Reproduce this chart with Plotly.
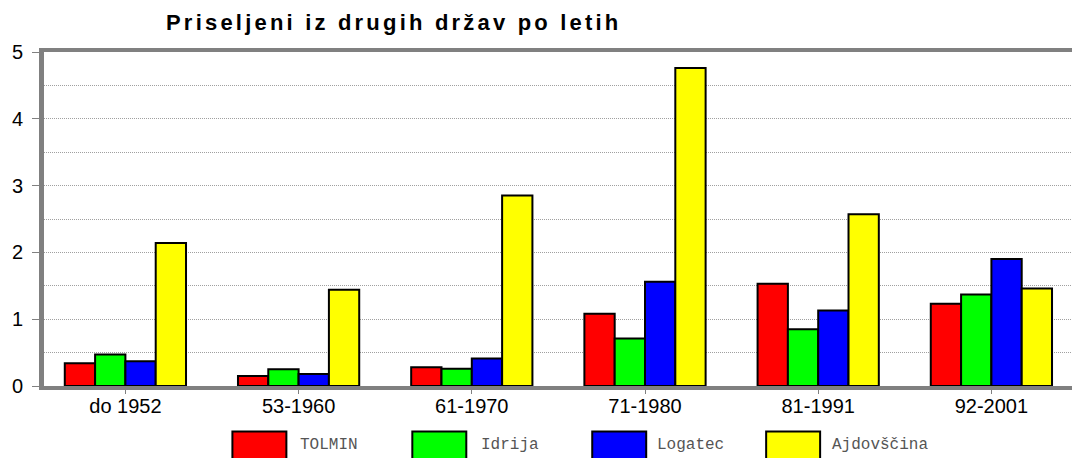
import plotly.graph_objects as go

categories = ["do 1952", "53-1960", "61-1970", "71-1980", "81-1991", "92-2001"]
series_names = ["TOLMIN", "Idrija", "Logatec", "Ajdovščina"]
tolmin = [0.34, 0.15, 0.28, 1.08, 1.53, 1.23]
idrija = [0.47, 0.25, 0.26, 0.71, 0.85, 1.37]
logatec = [0.37, 0.18, 0.41, 1.56, 1.13, 1.90]
ajdovscina = [2.14, 1.44, 2.85, 4.76, 2.57, 1.46]
series_values = [tolmin, idrija, logatec, ajdovscina]
colors = ["#FF0000", "#00FF00", "#0000FF", "#FFFF00"]
y_ticks = [0, 1, 2, 3, 4, 5]
title_text = "Priseljeni iz drugih držav po letih"

# page body has an 8px margin; figure coords = screen coords - 8
OFF = 8
W, H = 1072, 450
L, R, T, B = 35.5, 2, 44, 71.5
PW, PH = W - L - R, H - T - B

fig = go.Figure()
for name, vals, col in zip(series_names, series_values, colors):
    fig.add_trace(go.Bar(
        x=categories, y=vals, name=name,
        marker=dict(color=col, line=dict(color="#000000", width=2)),
        showlegend=False,
    ))

def px_x(px):
    return (px - OFF - L) / PW

def px_y(py):
    return (H - B - (py - OFF)) / PH

# custom legend (large swatches as in the reference)
swatch_x = [232, 412, 592, 766]
text_x = [298, 479, 655, 830]
shapes = []
annotations = []
for i, name in enumerate(series_names):
    shapes.append(dict(
        type="rect", xref="paper", yref="paper",
        x0=px_x(swatch_x[i]), x1=px_x(swatch_x[i] + 54),
        y0=px_y(432), y1=px_y(462),
        fillcolor=colors[i], line=dict(color="#000000", width=2),
    ))
    annotations.append(dict(
        xref="paper", yref="paper", x=px_x(text_x[i]), y=px_y(445.5),
        xanchor="left", yanchor="middle", showarrow=False, text=name,
        font=dict(family="Courier New, Liberation Mono, monospace", size=16, color="#555555"),
    ))

annotations.append(dict(
    xref="paper", yref="paper", x=px_x(394), y=px_y(22),
    xanchor="center", yanchor="middle", showarrow=False,
    text="<span style='letter-spacing:3.2px'><b>" + title_text + "</b></span>",
    font=dict(family="Arial, Liberation Sans, sans-serif", size=22, color="#000000"),
))

fig.update_layout(
    width=W, height=H,
    margin=dict(l=L, r=R, t=T, b=B, pad=0),
    paper_bgcolor="white", plot_bgcolor="white",
    barmode="group", bargap=0.3, bargroupgap=0,
    shapes=shapes, annotations=annotations,
    font=dict(family="Arial, Liberation Sans, sans-serif", color="#000000"),
    xaxis=dict(
        range=[-0.47, 5.5], showgrid=False,
        showline=True, linecolor="#808080", linewidth=4, mirror=True,
        ticks="outside", ticklen=4, tickcolor="#808080", tickwidth=1,
        ticklabelstandoff=-5,
        tickfont=dict(size=20, color="#000000"),
    ),
    yaxis=dict(
        range=[0, 5], tickvals=y_ticks,
        showline=True, linecolor="#808080", linewidth=5,
        ticks="outside", ticklen=7, tickcolor="#808080", tickwidth=1,
        ticklabelstandoff=5,
        tickfont=dict(size=20, color="#000000"),
        showgrid=True, gridcolor="#a0a0a0", griddash="1px,1px", gridwidth=1,
        minor=dict(dtick=0.5, tick0=0, showgrid=True, gridcolor="#a0a0a0", griddash="1px,1px", gridwidth=1, ticks=""),
        zeroline=False,
    ),
)

fig.write_html("out.html")
